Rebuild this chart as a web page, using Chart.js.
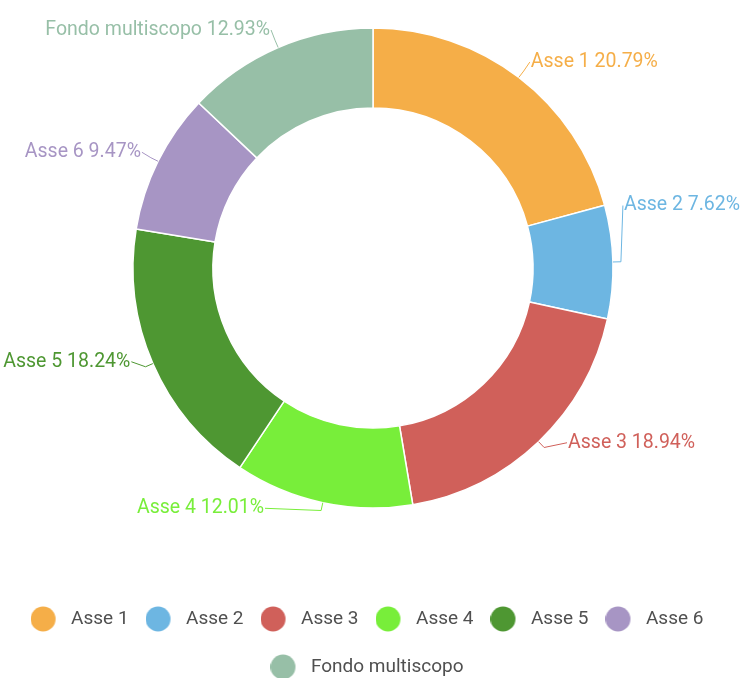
<!DOCTYPE html>
<html><head><meta charset="utf-8">
<script src="https://cdn.jsdelivr.net/npm/chart.js@4/dist/chart.umd.min.js"></script>
<style>html,body{margin:0;padding:0;background:#fff}#wrap{width:742px;height:678px}</style>
</head><body><div id="wrap"><canvas id="c"></canvas></div>
<script>
const categories = ['Asse 1', 'Asse 2', 'Asse 3', 'Asse 4', 'Asse 5', 'Asse 6', 'Fondo multiscopo'];
const values = [20.79, 7.62, 18.94, 12.01, 18.24, 9.47, 12.93];
const colors = ['#F5AE48', '#6DB6E2', '#D0605A', '#78EE3A', '#4E9732', '#A795C4', '#97BFA7'];

function legendDot(color) {
  const c = document.createElement('canvas');
  c.width = 43; c.height = 26;
  const x = c.getContext('2d');
  x.fillStyle = color;
  x.beginPath(); x.arc(12.5, 13, 12.5, 0, Math.PI * 2); x.fill();
  return c;
}
const dots = colors.map(legendDot);

const areaShift = {
  id: 'areaShift',
  afterLayout(chart, args, opts) {
    chart.chartArea.top -= opts.top;
    chart.chartArea.height = chart.chartArea.bottom - chart.chartArea.top;
  }
};

const outLabels = {
  id: 'outLabels',
  afterDatasetsDraw(chart, args, opts) {
    const ctx = chart.ctx;
    const meta = chart.getDatasetMeta(0);
    const ds = chart.data.datasets[0];
    ctx.save();
    ctx.font = opts.font;
    ctx.textBaseline = 'middle';
    ctx.lineWidth = 1;
    meta.data.forEach((arc, i) => {
      const p = arc.getProps(['x', 'y', 'startAngle', 'endAngle', 'outerRadius'], true);
      const mid = (p.startAngle + p.endAngle) / 2;
      const c = Math.cos(mid), s = Math.sin(mid);
      const right = c >= 0;
      const n = (opts.nudge && opts.nudge[i]) || [0, 0];
      const r = p.outerRadius;
      const x0 = p.x + c * r, y0 = p.y + s * r;
      const x1 = p.x + c * (r + opts.elbow), y1 = p.y + s * (r + opts.elbow);
      const ax = p.x + c * (r + opts.dist) + n[0], ay = p.y + s * (r + opts.dist) + n[1] + opts.dy;
      const tx = ax + (right ? opts.gap : -opts.gap);
      ctx.strokeStyle = ds.backgroundColor[i];
      ctx.fillStyle = ds.backgroundColor[i];
      ctx.beginPath();
      ctx.moveTo(x0, y0); ctx.lineTo(x1, y1); ctx.lineTo(ax, ay);
      ctx.stroke();
      ctx.textAlign = right ? 'left' : 'right';
      ctx.fillText(chart.data.labels[i] + ' ' + values[i].toFixed(2) + '%', tx, ay);
    });
    ctx.restore();
  }
};

new Chart(document.getElementById('c'), {
  type: 'doughnut',
  data: {
    labels: categories,
    datasets: [{
      data: values,
      backgroundColor: colors,
      borderColor: '#ffffff',
      borderWidth: 1.5,
      radius: 240,
      cutout: '66.7%'
    }]
  },
  options: {
    responsive: true,
    maintainAspectRatio: false,
    animation: false,
    layout: { padding: { top: 0, bottom: -8.5, left: 4, right: 0 } },
    plugins: {
      tooltip: { enabled: false },
      legend: {
        position: 'bottom',
        labels: {
          usePointStyle: true,
          boxHeight: 17.7,
          padding: 29,
          color: '#505050',
          font: { family: 'Roboto', size: 19 },
          generateLabels(chart) {
            const items = Chart.overrides.doughnut.plugins.legend.labels.generateLabels(chart);
            items.forEach((it, i) => { it.pointStyle = dots[i]; });
            return items;
          }
        }
      },
      areaShift: { top: 44.5 },
      outLabels: {
        font: '19.5px Roboto',
        dist: 18, elbow: 8, gap: 1, dy: -1,
        nudge: { 1: [-8, -55], 2: [16, -11], 3: [-54, -11], 4: [-5, -8] }
      }
    }
  },
  plugins: [areaShift, outLabels]
});
</script>
</body></html>
